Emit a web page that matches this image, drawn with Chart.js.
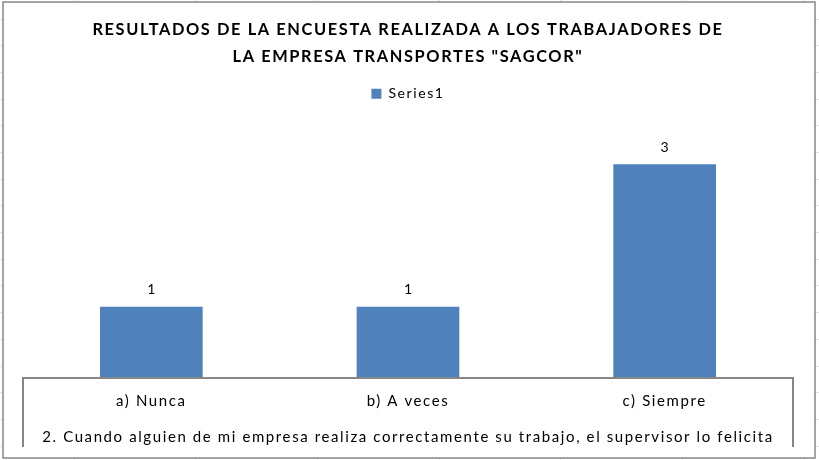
<!DOCTYPE html>
<html>
<head>
<meta charset="utf-8">
<script src="https://cdn.jsdelivr.net/npm/chart.js@4"></script>
<style>
  html, body { margin: 0; padding: 0; background: #fff; }
  canvas { display: block; }
</style>
</head>
<body>
<canvas id="encuesta" width="819" height="460"></canvas>
<script>
const categories = ['a) Nunca', 'b) A veces', 'c) Siempre'];
const series1 = [1, 1, 3];
const titleLines = [
    'RESULTADOS DE LA ENCUESTA REALIZADA A LOS TRABAJADORES DE',
    'LA EMPRESA TRANSPORTES "SAGCOR"'
];
const axisTitle = '2. Cuando alguien de mi empresa realiza correctamente su trabajo, el supervisor lo felicita';

const FONT = 'Lato, "Open Sans", sans-serif';

// sheet background, chart frame, the open box under the axis and the value labels
const framePlugin = {
    id: 'frame',
    beforeLayout(chart) {
        // the old Excel picture has loosely spaced text
        chart.ctx.letterSpacing = '1.6px';
    },
    beforeDraw(chart) {
        const ctx = chart.ctx;
        ctx.save();
        ctx.fillStyle = '#fff';
        ctx.fillRect(0, 0, chart.width, chart.height);
        ctx.strokeStyle = '#e3e3e3';
        ctx.lineWidth = 1;
        for (let x = 73.5; x < chart.width; x += 121.7) {
            ctx.beginPath(); ctx.moveTo(Math.round(x) + 0.5, 0); ctx.lineTo(Math.round(x) + 0.5, chart.height); ctx.stroke();
        }
        for (let y = 18.5; y < chart.height; y += 26.7) {
            ctx.beginPath(); ctx.moveTo(0, Math.round(y) + 0.5); ctx.lineTo(chart.width, Math.round(y) + 0.5); ctx.stroke();
        }
        ctx.fillStyle = '#fff';
        ctx.fillRect(3, 2, 812, 456);
        ctx.strokeStyle = '#868686';
        ctx.lineWidth = 1.5;
        ctx.strokeRect(3, 2, 812, 456);
        ctx.restore();
    },
    afterDatasetsDraw(chart) {
        const ctx = chart.ctx;
        const area = chart.chartArea;
        ctx.save();
        ctx.strokeStyle = '#868686';
        ctx.lineWidth = 2;
        ctx.beginPath();
        ctx.moveTo(area.left, 447);
        ctx.lineTo(area.left, area.bottom);
        ctx.lineTo(area.right, area.bottom);
        ctx.lineTo(area.right, 447);
        ctx.stroke();

        ctx.fillStyle = '#000';
        ctx.font = '14px ' + FONT;
        ctx.letterSpacing = '0px';
        ctx.textAlign = 'center';
        ctx.textBaseline = 'middle';
        chart.getDatasetMeta(0).data.forEach((bar, i) => {
            ctx.fillText(String(series1[i]), bar.x, bar.y - 17);
        });
        ctx.restore();
    }
};

new Chart(document.getElementById('encuesta'), {
    type: 'bar',
    data: {
        labels: categories,
        datasets: [{
            label: 'Series1',
            data: series1,
            backgroundColor: '#4F81BD',
            borderWidth: 0,
            categoryPercentage: 1,
            barPercentage: 0.4
        }]
    },
    options: {
        responsive: false,
        devicePixelRatio: 1,
        animation: false,
        layout: { padding: { left: 23, right: 26, top: 0, bottom: 0 } },
        plugins: {
            title: {
                display: true,
                text: titleLines,
                color: '#000',
                font: { family: FONT, size: 16.4, weight: 'bold', lineHeight: 1.67 },
                padding: { top: 16, bottom: 7 }
            },
            legend: {
                display: true,
                labels: {
                    color: '#000',
                    font: { family: FONT, size: 14 },
                    boxWidth: 10,
                    boxHeight: 10,
                    padding: 9
                }
            },
            tooltip: { enabled: false }
        },
        scales: {
            y: { display: false, min: 0, max: 3.75 },
            x: {
                grid: { display: false, drawTicks: false },
                border: { display: false },
                ticks: {
                    color: '#000',
                    font: { family: FONT, size: 15 },
                    padding: 14
                },
                title: {
                    display: true,
                    text: axisTitle,
                    color: '#000',
                    font: { family: FONT, size: 15 },
                    padding: { top: 0, bottom: 14 }
                },
                afterFit(scale) { scale.height = 82; }
            }
        }
    },
    plugins: [framePlugin]
});
</script>
</body>
</html>
